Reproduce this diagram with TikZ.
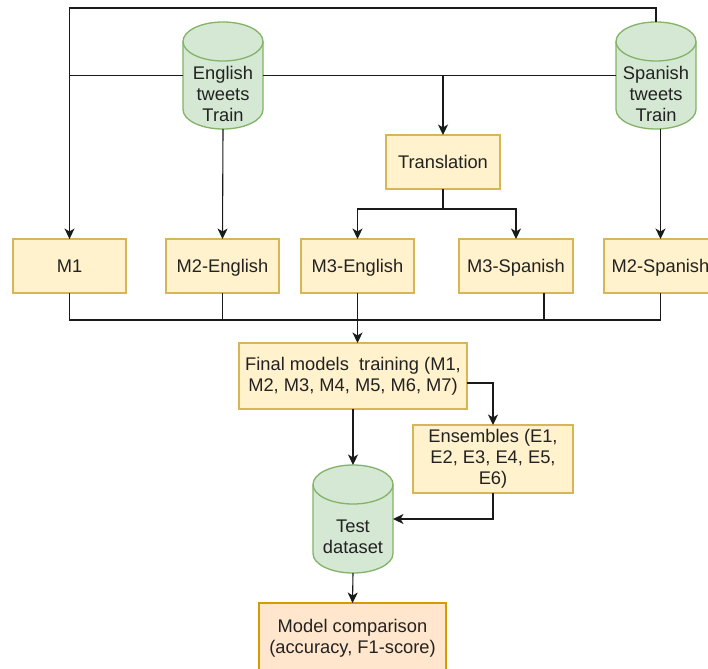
\documentclass[tikz,border=0pt]{standalone}
\usepackage{fontspec}
\setmainfont{Liberation Sans}
\usetikzlibrary{arrows.meta,calc}
\definecolor{boxfill}{HTML}{FFF2CC}
\definecolor{boxline}{HTML}{D6B656}
\definecolor{cylfill}{HTML}{D5E8D4}
\definecolor{cylline}{HTML}{82B366}
\definecolor{mcfill}{HTML}{FFE6CC}
\definecolor{mcline}{HTML}{D79B00}
\definecolor{ink}{HTML}{222222}
\definecolor{wirec}{HTML}{1A1A1A}
\newcommand{\drawcyl}[1]{%
  \filldraw[cylsty] ($(#1.north west)+(0,19.5)$) -- ($(#1.south west)+(0,-19.5)$)
    arc[start angle=180,end angle=360,x radius=40pt,y radius=19.5pt]
    -- ($(#1.north east)+(0,19.5)$)
    arc[start angle=0,end angle=180,x radius=40pt,y radius=19.5pt] -- cycle;
  \draw[cylsty,fill=none] ($(#1.north west)+(0,19.5)$)
    arc[start angle=180,end angle=360,x radius=40pt,y radius=19.5pt];
}
\begin{document}
\begin{tikzpicture}[x=1pt,y=-1pt,
  font=\fontsize{18.3}{21}\selectfont, text=ink,
  box/.style={draw=boxline, fill=boxfill, line width=1.3pt, inner sep=0pt, outer sep=0pt, align=center},
  mbox/.style={box, minimum width=113pt, minimum height=54pt, text depth=0pt},
  cylarea/.style={inner sep=0pt, outer sep=0pt, minimum width=80pt, minimum height=107pt},
  cyltext/.style={inner sep=0pt, align=center},
  cylsty/.style={draw=cylline, fill=cylfill, line width=1.3pt},
  wire/.style={draw=wirec, line width=1.1pt},
  arr/.style={wire, -{Stealth[length=10.5pt,width=10pt,inset=3pt]}},
]
\useasboundingbox (0,0) rectangle (708,668);
\clip (0,0) rectangle (708,668);
\fill[white] (0,0) rectangle (708,668);

% cylinders
\node[cylarea] (eng) at (223,75.5) {};
\drawcyl{eng}
\node[cyltext] (engt) at (223,94) {English\\tweets\\Train};
\node[cylarea] (spa) at (656,75.5) {};
\drawcyl{spa}
\node[cyltext] (spat) at (656,94) {Spanish\\tweets\\Train};
\node[cylarea, minimum height=108pt] (test) at (353,519) {};
\drawcyl{test}
\node[cyltext] (testt) at (353,537) {Test\\dataset};

% boxes
\node[mbox] (m1) at (69.5,266) {M1};
\node[mbox] (m2e) at (222.5,266) {M2-English};
\node[mbox] (m3e) at (357.5,266) {M3-English};
\node[mbox, minimum width=114pt] (m3s) at (516,266) {M3-Spanish};
\node[mbox] (m2s) at (660.5,266) {M2-Spanish};
\node[mbox, minimum width=114pt] (trans) at (443,162) {Translation};
\node[box, minimum width=228pt, minimum height=66pt] (final) at (353,376) {Final models\ \ training (M1,\\M2, M3, M4, M5, M6, M7)};
\node[box, minimum width=160pt, minimum height=68pt] (ens) at (493,459) {Ensembles (E1,\\E2, E3, E4, E5,\\E6)};
\node[box, draw=mcline, fill=mcfill, minimum width=187pt, minimum height=71pt] (mc) at (352.5,638.5) {Model comparison\\(accuracy, F1-score)};

% connectors from datasets
\draw[arr] (spa.north) -- ++(0,-14) -| (m1.north);
\draw[wire] (eng.west) -| (m1.north);
\draw[wire] (eng.east) -- (spa.west);
\draw[arr] (trans.north |- eng.east) -- (trans.north);
\draw[arr] (eng.south) -- (m2e.north);
\draw[arr] (m2s.north |- spa.south) -- (m2s.north);

% translation split
\coordinate (tsplit) at ($(trans.south)+(0,20)$);
\draw[wire] (trans.south) -- (tsplit);
\draw[arr] (tsplit) -| (m3e.north);
\draw[arr] (tsplit) -| (m3s.north);

% bus to final models
\coordinate (bus) at ($(m1.south)+(0,27)$);
\draw[wire] (m1.south) -- (bus) -| (m2s.south);
\draw[wire] (m2e.south) -- (m2e.south |- bus);
\draw[wire] ([xshift=28pt]m3s.south) -- ([xshift=28pt]m3s.south |- bus);
\draw[arr] (m3e.south) -- (m3e.south |- final.north);

% final stage
\draw[arr] ([yshift=-7pt]final.east) -| (ens.north);
\draw[arr] (final.south) -- (test.north);
\draw[arr] (ens.south) |- (test.east);
\draw[arr] (test.south) -- (mc.north);
\end{tikzpicture}
\end{document}
